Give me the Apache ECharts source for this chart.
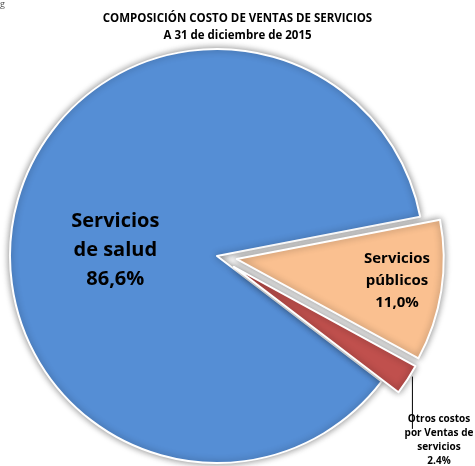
<!DOCTYPE html>
<html><head><meta charset="utf-8">
<script src="https://cdn.jsdelivr.net/npm/echarts@6/dist/echarts.min.js"></script>
<style>html,body{margin:0;padding:0;background:#fff}#c{width:475px;height:466px}</style>
</head><body><div id="c"></div>
<script>
const categories = ['Servicios de salud', 'Servicios públicos', 'Otros costos por Ventas de servicios'];
const labelTexts = ['Servicios\nde salud\n86,6%', 'Servicios\npúblicos\n11,0%', 'Otros costos\npor Ventas de\nservicios\n2.4%'];
const values = [86.6, 11.0, 2.4];
const colors = ['#558ED5', '#FAC090', '#C0504D'];
const exploded = [false, true, true];

const chart = echarts.init(document.getElementById('c'));
const font = 'Open Sans';
const labelStyles = [
  {position: 'inside', fontSize: 20, lineHeight: 29, fontWeight: 'bold', color: '#000'},
  {position: 'inside', fontSize: 15, lineHeight: 22, fontWeight: 'bold', color: '#000'},
  {position: 'outside', fontSize: 1, lineHeight: 1, color: 'rgba(0,0,0,0)', overflow: 'none', alignTo: 'none'}
];
chart.setOption({
  animation: false,
  title: {
    text: 'COMPOSICIÓN COSTO DE VENTAS DE SERVICIOS\nA 31 de diciembre de 2015',
    left: 'center', top: 5,
    textStyle: {fontFamily: font, fontSize: 11.5, fontWeight: 'bold', lineHeight: 17, color: '#000'}
  },
  graphic: [
    {type: 'text', left: 0, top: 0, style: {text: 'g', fontSize: 9, fill: '#555', fontFamily: font}},
    {type: 'text', x: 439, y: 412, style: {text: labelTexts[2], align: 'center', verticalAlign: 'top',
      fontFamily: font, fontSize: 10, lineHeight: 14, fontWeight: 'bold', fill: '#000'}}
  ],
  series: [{
    type: 'pie',
    center: [217, 256],
    radius: 207,
    startAngle: -37.3,
    clockwise: true,
    avoidLabelOverlap: false,
    selectedMode: 'multiple',
    selectedOffset: 20,
    silent: true,
    data: categories.map((c, i) => ({
      name: c, value: values[i], selected: exploded[i],
      itemStyle: {color: colors[i]},
      label: Object.assign({show: true, fontFamily: font, formatter: i === 2 ? ' ' : labelTexts[i]}, labelStyles[i]),
      labelLine: i === 2 ? {show: true, length: 30, length2: 0, lineStyle: {color: '#000', width: 1}} : {show: false}
    })),
    itemStyle: {borderColor: '#fff', borderWidth: 2, shadowBlur: 7, shadowColor: 'rgba(0,0,0,0.45)'},
    labelLayout: function (p) {
      if (p.dataIndex === 0) return {dx: 2, dy: 19};
      if (p.dataIndex === 1) return {dx: 55, dy: 5};
      if (p.dataIndex === 2) {
        const s = p.labelLinePoints ? p.labelLinePoints[0] : [410, 378];
        return {x: s[0] + 5, y: 418, align: 'left', verticalAlign: 'middle',
          labelLinePoints: [[s[0] + 5, s[1] - 3], [s[0] + 5, 418], [s[0] + 5, 418]]};
      }
      return {};
    }
  }]
});
</script></body></html>
